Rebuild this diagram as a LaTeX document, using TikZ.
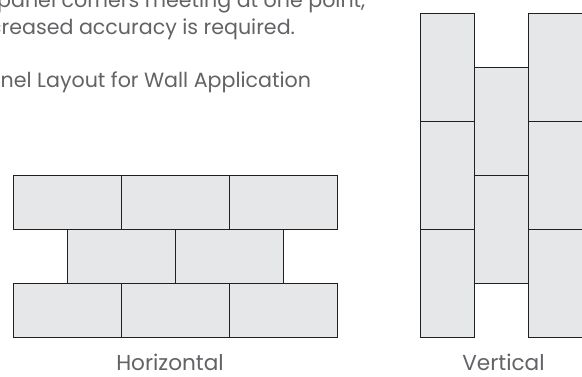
\documentclass[tikz,border=0pt]{standalone}
\usepackage{fontspec}
\setmainfont{Poppins}
\usetikzlibrary{positioning}
\definecolor{panelfill}{HTML}{E6E7E8}
\definecolor{panelline}{HTML}{231F20}
\definecolor{notegrey}{HTML}{626366}
\tikzset{panel/.style={fill=panelfill, draw=panelline, line width=0.9pt}}
\tikzset{note/.style={text=notegrey, font=\fontsize{20.6}{24}\selectfont, inner sep=0pt, anchor=base west}}
\tikzset{caption/.style={text=notegrey, font=\fontsize{21.6}{26}\selectfont, inner sep=0pt, anchor=base}}

\begin{document}
\begin{tikzpicture}[x=1pt, y=1pt]
            \useasboundingbox (0, 0) rectangle (582, 377);
            \clip (0, 0) rectangle (582, 377);
            \node[note] (line1) at (-3, 369) {panel corners meeting at one point,};
            \node[note] (line2) at (1.5, 342) {\llap{inc}reased accuracy is required.};
            \node[note] (line3) at (0.5, 289) {\llap{Pa}nel Layout for Wall Application};
            \begin{scope}[shift={(13.3, 39.7)}]
                \foreach \row in {0, 2} {
                    \foreach \col in {0, 1, 2} {
                        \draw[panel] (\col*108, \row*54) rectangle ++ (108, 54);
                    }
                }
                \foreach \col in {0, 1} {
                    \draw[panel] (54 + \col*108, 54) rectangle ++ (108, 54);
                }
            \end{scope}
            \begin{scope}[shift={(420, 39.7)}]
                \foreach \col in {0, 2} {
                    \foreach \row in {0, 1, 2} {
                        \draw[panel] (\col*54, \row*108) rectangle ++ (54, 108);
                    }
                }
                \foreach \row in {0, 1} {
                    \draw[panel] (54, 54 + \row*108) rectangle ++ (54, 108);
                }
            \end{scope}
            \node[caption] (horizontal) at (170, 6) {Horizontal};
            \node[caption] (vertical) at (503.5, 6) {Vertical};
        \end{tikzpicture}
\end{document}
